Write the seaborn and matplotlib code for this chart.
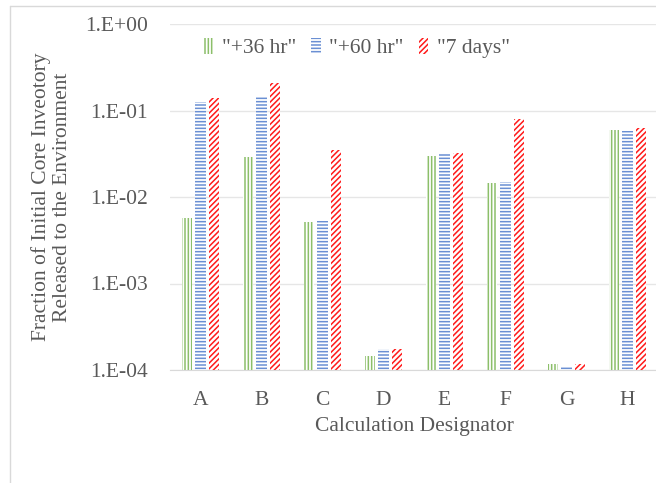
import math
import pandas as pd
import seaborn as sns
import matplotlib.pyplot as plt
from matplotlib.patches import Patch
from matplotlib.lines import Line2D
from matplotlib.ticker import FixedLocator, FuncFormatter, NullLocator

# Data
designators = ["A", "B", "C", "D", "E", "F", "G", "H"]
series_names = ['"+36 hr"', '"+60 hr"', '"7 days"']
hr36 = [5.7e-3, 2.9e-2, 5.2e-3, 1.45e-4, 3.0e-2, 1.47e-2, 1.16e-4, 5.9e-2]
hr60 = [1.25e-1, 1.46e-1, 5.3e-3, 1.75e-4, 3.2e-2, 1.5e-2, 1.11e-4, 5.8e-2]
days7 = [1.4e-1, 2.1e-1, 3.45e-2, 1.75e-4, 3.2e-2, 7.9e-2, 1.16e-4, 6.2e-2]

colors = ["#8cbf6a", "#6a8fd3", "#ff1a1a"]
hatches = ["|||||", "-----", "//////"]
text_color = "#595959"

df = pd.DataFrame({
    "designator": designators * 3,
    "series": [s for s in series_names for _ in designators],
    "value": hr36 + hr60 + days7,
})

sns.set_style("white")
plt.rcParams["font.family"] = ["Liberation Serif", "DejaVu Serif"]
plt.rcParams["hatch.linewidth"] = 1.1

fig = plt.figure(figsize=(6.56, 4.83), dpi=100)
ax = fig.add_axes([170 / 656, 1 - 370 / 483, 488 / 656, (370 - 24) / 483])

sns.barplot(data=df, x="designator", y="value", hue="series", order=designators,
            hue_order=series_names, width=0.66, gap=0.2, ax=ax, legend=False)

# Excel-style pattern fills: white face, coloured hatch
for cont, col, h in zip(ax.containers, colors, hatches):
    for bar in cont:
        bar.set_facecolor("white")
        bar.set_edgecolor(col)
        bar.set_hatch(h)
        bar.set_linewidth(0)

ax.set_yscale("log")
ax.set_ylim(1e-4, 1)
ax.set_xlim(-0.5, len(designators) - 0.5)
ax.yaxis.set_major_locator(FixedLocator([1e-4, 1e-3, 1e-2, 1e-1, 1]))
ax.yaxis.set_minor_locator(NullLocator())
ax.yaxis.set_major_formatter(FuncFormatter(
    lambda v, p: "1.E+00" if v >= 1 else "1.E-%02d" % round(-math.log10(v))))
ax.grid(axis="y", color="#e6e6e6", linewidth=1)
ax.set_axisbelow(True)
for s in ["top", "right", "left"]:
    ax.spines[s].set_visible(False)
ax.spines["bottom"].set_color("#d9d9d9")
ax.tick_params(axis="both", length=0, labelsize=15.5, colors=text_color)
ax.tick_params(axis="x", pad=15)
ax.tick_params(axis="y", pad=16)

ax.set_xlabel("Calculation Designator", fontsize=15.5, color=text_color, labelpad=5)
ax.set_ylabel("Fraction of Initial Core Inveotory\nReleased to the Environment",
              fontsize=15.5, color=text_color, linespacing=1.15)
ax.yaxis.set_label_coords(-0.2, 0.5)

handles = [Patch(facecolor="white", edgecolor=c, hatch=h, linewidth=0)
           for c, h in zip(colors, hatches)]
fig.legend(handles, series_names, loc="center left", bbox_to_anchor=(184 / 656, 1 - 48 / 483),
           ncol=3, frameon=False, fontsize=15.5, labelcolor=text_color,
           handlelength=0.45, handleheight=0.8, handletextpad=0.4, columnspacing=0.7)

# light chart border (top and left visible)
fig.add_artist(Line2D([10 / 656, 1], [1 - 6 / 483, 1 - 6 / 483], color="#d9d9d9", lw=1))
fig.add_artist(Line2D([10 / 656, 10 / 656], [0, 1 - 6 / 483], color="#d9d9d9", lw=1))

fig.savefig("out.png", dpi=100)
